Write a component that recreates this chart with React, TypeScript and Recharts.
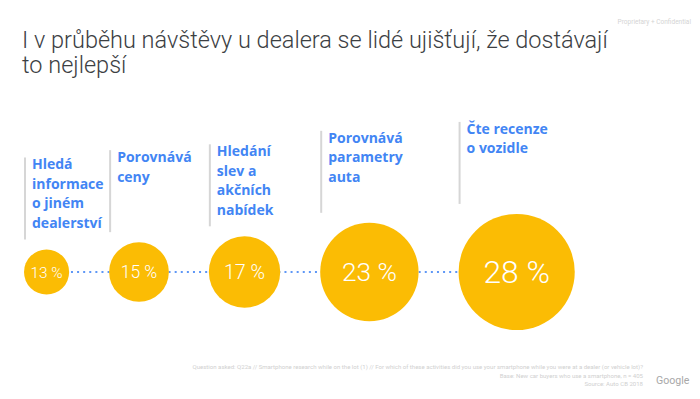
import React from 'react';
import { ScatterChart, Scatter, XAxis, YAxis, ZAxis } from 'recharts';

// ---- data ----
const categories: string[][] = [
  ['Hledá', 'informace', 'o jiném', 'dealerství'],
  ['Porovnává', 'ceny'],
  ['Hledání', 'slev a', 'akčních', 'nabídek'],
  ['Porovnává', 'parametry', 'auta'],
  ['Čte recenze', 'o vozidle'],
];
const values: number[] = [13, 15, 17, 23, 28];
const titleLines: string[] = [
  'I v průběhu návštěvy u dealera se lidé ujišťují, že dostávají',
  'to nejlepší',
];
const footnoteLines: string[] = [
  'Question asked: Q22a // Smartphone research while on the lot (1) // For which of these activities did you use your smartphone while you were at a dealer (or vehicle lot)?',
  'Base: New car buyers who use a smartphone, n = 405',
  'Source: Auto CB 2018',
];
const headerNote = 'Proprietary + Confidential';
const brand = 'Google';

// ---- bubble sizing (area scale, same as ZAxis) ----
const Z_RANGE: [number, number] = [1600, 10600];
const Z_DOMAIN: [number, number] = [Math.min(...values), Math.max(...values)];
const GAP = 40;
const FIRST_EDGE = 24;

const areaOf = (v: number) =>
  Z_RANGE[0] + ((v - Z_DOMAIN[0]) / (Z_DOMAIN[1] - Z_DOMAIN[0])) * (Z_RANGE[1] - Z_RANGE[0]);
const radiusOf = (v: number) => Math.sqrt(areaOf(v) / Math.PI);

const data = (() => {
  const out: { pos: number; row: number; value: number; lines: string[] }[] = [];
  let edge = FIRST_EDGE;
  values.forEach((v, i) => {
    const r = radiusOf(v);
    out.push({ pos: edge + r, row: 0, value: v, lines: categories[i] });
    edge = edge + 2 * r + GAP;
  });
  return out;
})();

const YELLOW = '#FBBC04';
const BLUE = '#4285F4';
const LABEL_FONT = '"Open Sans", "Noto Sans", sans-serif';

const Bubble = (props: any) => {
  const { cx, cy, size, payload, width } = props;
  const r = size ? Math.sqrt(size / Math.PI) : width / 2;
  const fs = payload.value * 1.1 + 1;
  const barBottom = cy - r - 10;
  const barTop = barBottom - 82;
  const bx = cx - r + 1;
  return (
    <g>
      <circle cx={cx} cy={cy} r={r} fill={YELLOW} />
      <text
        x={cx}
        y={cy}
        dy="0.36em"
        textAnchor="middle"
        fill="#ffffff"
        fontSize={fs}
        fontFamily="Roboto, sans-serif"
        fontWeight={300}
      >
        {`${payload.value} %`}
      </text>
      <line x1={bx} x2={bx} y1={barTop} y2={barBottom} stroke="#d6d6d6" strokeWidth={2} />
      <text fill={BLUE} fontSize={14} fontWeight={700} fontFamily={LABEL_FONT}>
        {payload.lines.map((l: string, i: number) => (
          <tspan key={i} x={bx + 7} y={barTop + 12 + i * 19.5}>
            {l}
          </tspan>
        ))}
      </text>
    </g>
  );
};

export default function App() {
  return (
    <div style={{ position: 'absolute', left: 0, top: 0, width: 700, height: 399, background: '#fff' }}>
      <ScatterChart width={700} height={399} margin={{ top: 200, right: 0, bottom: 55, left: 0 }}>
        <XAxis type="number" dataKey="pos" domain={[0, 700]} hide />
        <YAxis type="number" dataKey="row" domain={[-1, 1]} hide />
        <ZAxis type="number" dataKey="value" domain={Z_DOMAIN} range={Z_RANGE} />
        <Scatter
          data={data}
          isAnimationActive={false}
          shape={<Bubble />}
          line={{ stroke: '#5e97f6', strokeWidth: 2, strokeDasharray: '2 4.1' }}
          lineType="joint"
        />
      </ScatterChart>
      <svg
        width={700}
        height={399}
        style={{ position: 'absolute', left: 0, top: 0, pointerEvents: 'none' }}
      >
        <text fontSize={23.5} fontFamily="Roboto, sans-serif" fontWeight={300} fill="#3c4043">
          {titleLines.map((t, i) => (
            <tspan key={i} x={22} y={48 + i * 24.5}>
              {t}
            </tspan>
          ))}
        </text>
        <text x={691} y={24} textAnchor="end" fontSize={6.5} fontFamily="Roboto, sans-serif" fill="#d4d4d4">
          {headerNote}
        </text>
        <text textAnchor="end" fontSize={6.05} fontFamily="Roboto, sans-serif" fill="#d0d0d0">
          {footnoteLines.map((t, i) => (
            <tspan key={i} x={643} y={369 + i * 8.6}>
              {t}
            </tspan>
          ))}
        </text>
        <text x={656} y={384} fontSize={10.6} fontFamily="Roboto, sans-serif" fill="#a8a8a8">
          {brand}
        </text>
      </svg>
    </div>
  );
}
